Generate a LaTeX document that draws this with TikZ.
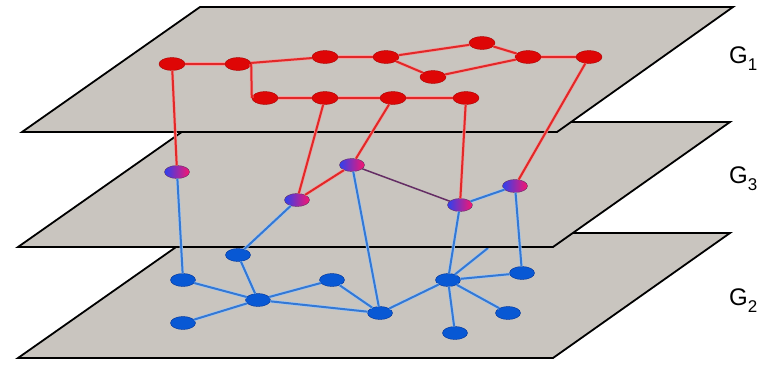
\documentclass[tikz,border=0pt]{standalone}
\usepackage{fontspec}
\setmainfont{Liberation Sans}
\usetikzlibrary{shapes.geometric}
\definecolor{planefill}{RGB}{201,197,191}
\definecolor{nodered}{RGB}{222,6,6}
\definecolor{noderededge}{RGB}{170,0,0}
\definecolor{nodeblue}{RGB}{8,88,212}
\definecolor{nodeblueedge}{RGB}{0,50,150}
\definecolor{linered}{RGB}{226,40,40}
\definecolor{lineredhalo}{RGB}{240,160,160}
\definecolor{lineblue}{RGB}{52,120,212}
\definecolor{linebluehalo}{RGB}{165,200,240}
\definecolor{linepurple}{RGB}{100,45,100}
\definecolor{mixleft}{RGB}{45,65,240}
\definecolor{mixright}{RGB}{250,20,110}
\begin{document}
\begin{tikzpicture}[x=1pt,y=-1pt,
  planestyle/.style={fill=planefill,draw=black,line width=1.8pt},
  rnode/.style={ellipse,minimum width=26pt,minimum height=13pt,inner sep=0pt,fill=nodered,draw=noderededge,line width=0.4pt},
  bnode/.style={ellipse,minimum width=25pt,minimum height=13pt,inner sep=0pt,fill=nodeblue,draw=nodeblueedge,line width=0.4pt},
  pnode/.style={ellipse,minimum width=25pt,minimum height=13pt,inner sep=0pt,left color=mixleft,right color=mixright,draw=linepurple,line width=0.4pt},
  redline/.style={draw=lineredhalo,line width=0.6pt,double=linered,double distance=2pt},
  blueline/.style={draw=linebluehalo,line width=0.6pt,double=lineblue,double distance=2pt},
  purpleline/.style={draw=linepurple,line width=1.5pt},
  lbl/.style={anchor=base west,font=\fontsize{24}{24}\selectfont,inner sep=0pt}]
\useasboundingbox (0,0) rectangle (773,364);

% ---------- G2 (bottom) ----------
\draw[planestyle] (18,358) -- (553,358) -- (730,233) -- (196,233) -- cycle;
\node[bnode] (b1) at (183,280) {};
\node[bnode] (b2) at (238,255) {};
\node[bnode] (b3) at (258,300) {};
\node[bnode] (b4) at (332,280) {};
\node[bnode] (b5) at (183,323) {};
\node[bnode] (b6) at (380,313) {};
\node[bnode] (b7) at (448,280) {};
\node[bnode] (b8) at (522,273) {};
\node[bnode] (b9) at (508,313) {};
\node[bnode] (b10) at (455,333) {};
\coordinate (hid) at (488,248);
\draw[blueline] (b2) -- (b3);
\draw[blueline] (b1) -- (b3);
\draw[blueline] (b5) -- (b3);
\draw[blueline] (b3) -- (b4);
\draw[blueline] (b3) -- (b6);
\draw[blueline] (b4) -- (b6);
\draw[blueline] (b6) -- (b7);
\draw[blueline] (b7) -- (b8);
\draw[blueline] (b7) -- (b9);
\draw[blueline] (b7) -- (b10);
\draw[blueline] (b7) -- (hid);

% ---------- G3 (middle) ----------
\draw[planestyle] (18,247) -- (553,247) -- (730,122) -- (196,122) -- cycle;
\node[pnode] (p1) at (177,172) {};
\node[pnode] (p2) at (297,200) {};
\node[pnode] (p3) at (352,165) {};
\node[pnode] (p4) at (460,205) {};
\node[pnode] (p5) at (515,186) {};
\draw[blueline] (p1) -- (b1);
\draw[blueline] (p2) -- (b2);
\draw[blueline] (p3) -- (b6);
\draw[blueline] (p4) -- (b7);
\draw[blueline] (p5) -- (b8);
\draw[blueline] (p4) -- (p5);
\draw[purpleline] (p3) -- (p4);
\draw[redline] (p3) -- (p2);

% ---------- G1 (top) ----------
\draw[planestyle] (22,132) -- (557,132) -- (733,7) -- (200,7) -- cycle;
\node[rnode] (r1) at (172,64) {};
\node[rnode] (r2) at (238,64) {};
\node[rnode] (r3) at (325,57) {};
\node[rnode] (r4) at (386,57) {};
\node[rnode] (r5) at (482,43) {};
\node[rnode] (r6) at (433,77) {};
\node[rnode] (r7) at (528,57) {};
\node[rnode] (r8) at (589,57) {};
\node[rnode] (r9) at (265,98) {};
\node[rnode] (r10) at (325,98) {};
\node[rnode] (r11) at (393,98) {};
\node[rnode] (r12) at (466,98) {};
\draw[redline] (r1) -- (r2);
\draw[redline] (r2) -- (r3);
\draw[redline] (r3) -- (r4);
\draw[redline] (r4) -- (r5);
\draw[redline] (r4) -- (r6);
\draw[redline] (r5) -- (r7);
\draw[redline] (r6) -- (r7);
\draw[redline] (r7) -- (r8);
\draw[redline] (r2.east) -- (r9.west);
\draw[redline] (r9) -- (r10);
\draw[redline] (r10) -- (r11);
\draw[redline] (r11) -- (r12);
\draw[redline] (r1) -- (p1);
\draw[redline] (r10) -- (p2);
\draw[redline] (r11) -- (p3);
\draw[redline] (r12) -- (p4);
\draw[redline] (r8) -- (p5);

% ---------- labels ----------
\node[lbl] (l1) at (729,63) {G\raisebox{-7pt}{\fontsize{17}{17}\selectfont 1}};
\node[lbl] (l3) at (729,183) {G\raisebox{-7pt}{\fontsize{17}{17}\selectfont 3}};
\node[lbl] (l2) at (729,305) {G\raisebox{-7pt}{\fontsize{17}{17}\selectfont 2}};
\end{tikzpicture}
\end{document}
